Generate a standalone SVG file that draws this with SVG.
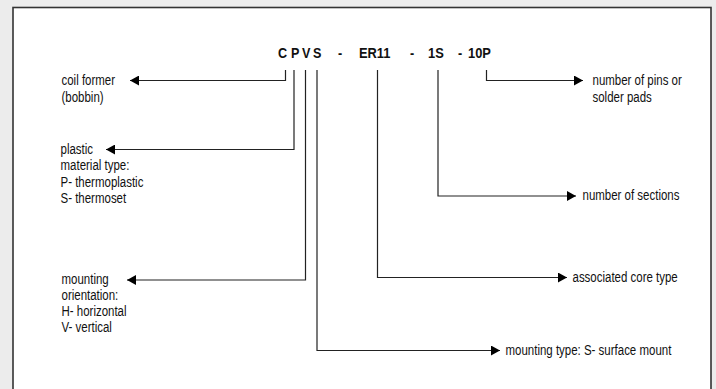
<svg xmlns="http://www.w3.org/2000/svg" width="716" height="389" viewBox="0 0 716 389">
<style>
.lbl{font-family:"Liberation Sans",Arial,sans-serif;font-size:14px;fill:#111}
.ttl{font-family:"Liberation Sans",Arial,sans-serif;font-size:14px;font-weight:bold;fill:#111}
.con{fill:none;stroke:#222;stroke-width:1.2}
</style>
<defs>
<marker id="ah" markerUnits="userSpaceOnUse" markerWidth="10" markerHeight="10" refX="9" refY="5" orient="auto">
<path d="M0,0 L9,5 L0,10 Z" fill="#000"/>
</marker>
</defs>
<rect x="0" y="0" width="716" height="389" fill="#ececec"/>
<rect x="13" y="7.5" width="698" height="400" fill="#fff" stroke="#333" stroke-width="1.6"/>
<g id="title">
<text class="ttl" transform="translate(278,58) scale(0.9,1)">C</text>
<text class="ttl" transform="translate(291,58) scale(0.9,1)">P</text>
<text class="ttl" transform="translate(302,58) scale(0.9,1)">V</text>
<text class="ttl" transform="translate(313,58) scale(0.9,1)">S</text>
<text class="ttl" transform="translate(338,58) scale(0.9,1)">-</text>
<text class="ttl" transform="translate(359,58) scale(0.92,1)">ER11</text>
<text class="ttl" transform="translate(410,58) scale(0.9,1)">-</text>
<text class="ttl" transform="translate(428,58) scale(0.92,1)">1S</text>
<text class="ttl" transform="translate(458,58) scale(0.9,1)">-</text>
<text class="ttl" transform="translate(468,58) scale(0.92,1)">10P</text>
</g>
<g id="connectors">
<path class="con" d="M285.5,70 V80.5 H130" marker-end="url(#ah)"/>
<path class="con" d="M294,70 V149.5 H106" marker-end="url(#ah)"/>
<path class="con" d="M305.5,70 V280 H127" marker-end="url(#ah)"/>
<path class="con" d="M317,70 V350.5 H500" marker-end="url(#ah)"/>
<path class="con" d="M377.5,70 V277.5 H567" marker-end="url(#ah)"/>
<path class="con" d="M438,70 V196 H576" marker-end="url(#ah)"/>
<path class="con" d="M486.5,70 V80.5 H583" marker-end="url(#ah)"/>
</g>
<g id="coil-former">
<text class="lbl" transform="translate(61.5,85) scale(0.82,1)">coil former</text>
<text class="lbl" transform="translate(61.5,101.5) scale(0.82,1)">(bobbin)</text>
</g>
<g id="plastic-material">
<text class="lbl" transform="translate(60.5,153.5) scale(0.82,1)">plastic</text>
<text class="lbl" transform="translate(60.5,170) scale(0.82,1)">material type:</text>
<text class="lbl" transform="translate(60.5,186.5) scale(0.82,1)">P- thermoplastic</text>
<text class="lbl" transform="translate(60.5,203) scale(0.82,1)">S- thermoset</text>
</g>
<g id="mounting-orientation">
<text class="lbl" transform="translate(61.5,283.5) scale(0.82,1)">mounting</text>
<text class="lbl" transform="translate(61.5,299.8) scale(0.82,1)">orientation:</text>
<text class="lbl" transform="translate(61.5,316) scale(0.82,1)">H- horizontal</text>
<text class="lbl" transform="translate(61.5,332.3) scale(0.82,1)">V- vertical</text>
</g>
<g id="pins">
<text class="lbl" transform="translate(592.5,85) scale(0.82,1)">number of pins or</text>
<text class="lbl" transform="translate(592.5,101.5) scale(0.82,1)">solder pads</text>
</g>
<g id="sections">
<text class="lbl" transform="translate(582.5,200) scale(0.82,1)">number of sections</text>
</g>
<g id="core-type">
<text class="lbl" transform="translate(572.5,282) scale(0.82,1)">associated core type</text>
</g>
<g id="mounting-type">
<text class="lbl" transform="translate(505.5,355) scale(0.82,1)">mounting type: S- surface mount</text>
</g>
</svg>
